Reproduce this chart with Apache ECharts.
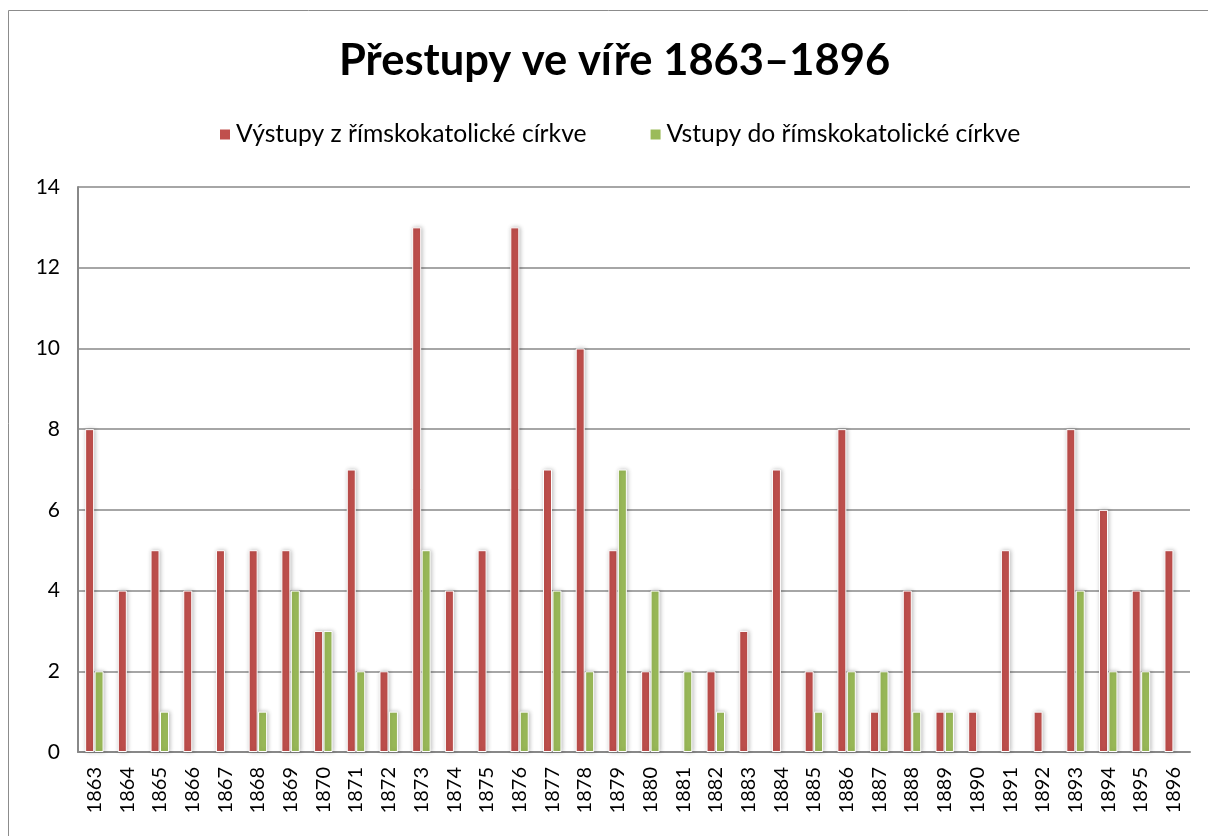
<!DOCTYPE html>
<html>
<head>
<meta charset="utf-8">
<script src="https://cdn.jsdelivr.net/npm/echarts@6/dist/echarts.min.js"></script>
<style>
  html, body { margin: 0; padding: 0; background: #fff; }
  #chart { width: 1208px; height: 836px; }
</style>
</head>
<body>
<div id="chart"></div>
<script>
// roky
const years = [
  "1863", "1864", "1865", "1866", "1867", "1868", "1869", "1870", "1871", "1872",
  "1873", "1874", "1875", "1876", "1877", "1878", "1879", "1880", "1881", "1882",
  "1883", "1884", "1885", "1886", "1887", "1888", "1889", "1890", "1891", "1892",
  "1893", "1894", "1895", "1896"
];
// výstupy z církve
const vystupy = [8, 4, 5, 4, 5, 5, 5, 3, 7, 2, 13, 4, 5, 13, 7, 10, 5, 2, 0, 2,
  3, 7, 2, 8, 1, 4, 1, 1, 5, 1, 8, 6, 4, 5];
// vstupy do církve
const vstupy = [2, 0, 1, 0, 0, 1, 4, 3, 2, 1, 5, 0, 0, 1, 4, 2, 7, 4, 2, 1,
  0, 0, 1, 2, 2, 1, 1, 0, 0, 0, 4, 2, 2, 0];

const font = "Lato, 'Open Sans', sans-serif";
const chart = echarts.init(document.getElementById("chart"));

const barStyle = (color) => ({
  color: color,
  borderColor: "#fff",
  borderWidth: 1,
  shadowBlur: 4,
  shadowColor: "rgba(0,0,0,0.25)",
  shadowOffsetX: 1,
  shadowOffsetY: 0,
});

// nulové sloupce nekreslit (ani okraj a stín)
const toData = (arr) =>
  arr.map((v) => (v === 0 ? { value: 0, itemStyle: { opacity: 0 } } : v));

let option = {
  backgroundColor: "#fff",
  animation: false,
  graphic: [
    {
      type: "rect",
      shape: { x: 8.5, y: 10.5, width: 1210, height: 840 },
      style: { fill: "none", stroke: "#8c8c8c", lineWidth: 1 },
      silent: true,
    },
  ],
  title: {
    text: "Přestupy ve víře 1863–1896",
    left: 334,
    top: 34,
    textStyle: {
      fontFamily: font,
      fontSize: 43.5,
      fontWeight: "bold",
      color: "#000",
    },
  },
  legend: {
    data: ["Výstupy z římskokatolické církve", "Vstupy do římskokatolické církve"],
    top: 117,
    left: 213,
    itemWidth: 12,
    itemHeight: 12,
    itemGap: 62,
    icon: "rect",
    textStyle: {
      fontFamily: font,
      fontSize: 24.7,
      color: "#000",
    },
  },
  grid: {
    left: 78,
    right: 18,
    top: 187,
    bottom: 84,
    containLabel: false,
  },
  xAxis: {
    type: "category",
    data: years,
    axisLine: { lineStyle: { color: "#888", width: 2 } },
    axisTick: { show: false },
    axisLabel: {
      rotate: 90,
      margin: 15,
      interval: 0,
      fontFamily: font,
      fontSize: 20,
      color: "#000",
    },
  },
  yAxis: {
    type: "value",
    min: 0,
    max: 14,
    interval: 2,
    axisLine: { show: true, lineStyle: { color: "#888", width: 2 } },
    axisTick: { show: false },
    splitLine: { lineStyle: { color: "#888", width: 1.5 } },
    axisLabel: {
      margin: 18,
      fontFamily: font,
      fontSize: 21,
      color: "#000",
    },
  },
  series: [
    {
      name: "Výstupy z římskokatolické církve",
      type: "bar",
      barWidth: 9,
      barGap: "5%",
      itemStyle: barStyle("#C0504D"),
      data: toData(vystupy),
    },
    {
      name: "Vstupy do římskokatolické církve",
      type: "bar",
      barWidth: 9,
      itemStyle: barStyle("#9BBB59"),
      data: toData(vstupy),
    },
  ],
};
chart.setOption(option);
</script>
</body>
</html>
